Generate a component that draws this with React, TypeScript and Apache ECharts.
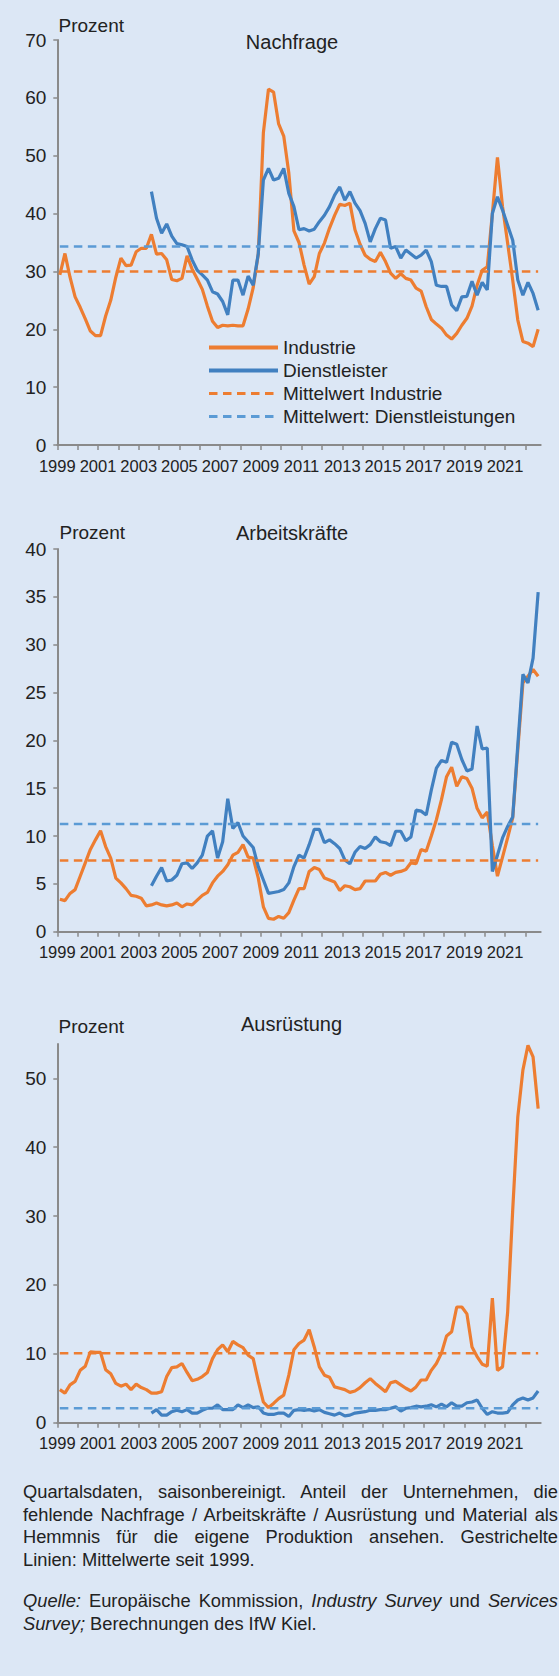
import React, { useEffect, useRef } from "react";
import * as echarts from "echarts";

// ---------- data ----------
// Quarterly values, 1999Q1 .. 2022Q3 (95 quarters); services series start 2003Q3
const SERVICES_START = 18;
const xTickQuarters = [0, 4, 8, 12, 16, 20, 24, 28, 32, 36, 40, 44, 48, 52, 56, 60, 64, 68, 72, 76, 80, 84, 88, 92];
const xLabelQuarters = [0, 8, 16, 24, 32, 40, 48, 56, 64, 72, 80, 88];
const yearLabels = ["1999", "2001", "2003", "2005", "2007", "2009", "2011", "2013", "2015", "2017", "2019", "2021"];

const nachfrageIndustrie = [
  29.4, 33.1, 29.0, 25.6, 23.8, 21.8, 19.7, 18.9, 18.9, 22.3,
  25.0, 29.0, 32.3, 31.0, 31.1, 33.4, 34.0, 34.0, 36.4, 33.0,
  33.1, 32.0, 28.6, 28.4, 28.8, 32.7, 30.4, 28.7, 26.9, 24.0,
  21.4, 20.3, 20.7, 20.6, 20.7, 20.6, 20.6, 23.5, 27.2, 33.0,
  54.0, 61.5, 61.0, 55.5, 53.4, 47.0, 37.0, 35.0, 31.1, 27.8,
  29.1, 33.1, 34.9, 37.5, 39.7, 41.6, 41.4, 41.8, 37.2, 34.7,
  32.8, 32.1, 31.7, 33.3, 31.7, 29.7, 28.8, 29.6, 28.8, 28.5,
  27.1, 26.6, 23.9, 21.7, 20.9, 20.2, 19.0, 18.3, 19.3, 20.7,
  21.9, 24.0, 27.6, 30.2, 30.8, 40.0, 49.7, 41.2, 34.9, 28.5,
  21.6, 17.9, 17.6, 17.0, 20.0,
];
const nachfrageDienst = [
  43.8, 39.2, 36.6, 38.2, 36.1, 34.8, 34.6, 34.3, 32.0, 30.2,
  29.4, 28.5, 26.5, 26.1, 24.8, 22.5, 28.5, 28.5, 25.9, 29.2,
  27.6, 33.1, 45.8, 47.8, 45.8, 46.1, 47.8, 43.5, 41.2, 37.2,
  37.4, 37.0, 37.3, 38.6, 39.7, 41.2, 43.2, 44.6, 42.3, 43.8,
  41.8, 40.5, 38.3, 35.1, 37.4, 39.2, 38.9, 34.0, 34.3, 32.3,
  33.7, 33.0, 32.3, 32.8, 33.7, 31.7, 27.6, 27.4, 27.4, 24.2,
  23.2, 25.6, 25.7, 28.3, 25.9, 28.1, 26.8, 40.0, 42.9, 40.6,
  38.0, 35.4, 28.5, 25.9, 28.1, 26.2, 23.3,
];
const nachfrageMittelIndustrie = 30.0;
const nachfrageMittelDienst = 34.3;

const arbeitIndustrie = [
  3.4, 3.25, 4.0, 4.4, 5.8, 7.2, 8.6, 9.6, 10.55, 8.9,
  7.7, 5.6, 5.1, 4.5, 3.8, 3.7, 3.5, 2.7, 2.8, 3.0,
  2.8, 2.7, 2.8, 3.0, 2.6, 2.9, 2.8, 3.3, 3.8, 4.1,
  5.1, 5.8, 6.3, 7.0, 8.0, 8.3, 9.1, 7.8, 7.7, 5.6,
  2.6, 1.4, 1.3, 1.6, 1.4, 2.0, 3.3, 4.5, 4.5, 6.3,
  6.7, 6.5, 5.6, 5.4, 5.2, 4.3, 4.8, 4.7, 4.4, 4.5,
  5.3, 5.3, 5.3, 6.0, 6.2, 5.9, 6.2, 6.3, 6.5, 7.2,
  7.1, 8.6, 8.4, 10.0, 11.7, 13.8, 16.2, 17.2, 15.2, 16.2,
  16.0, 15.0, 12.9, 11.9, 12.5, 9.0, 5.8, 7.8, 9.8, 11.9,
  19.0, 26.0, 26.7, 27.4, 26.7,
];
const arbeitDienst = [
  4.8, 5.8, 6.7, 5.3, 5.4, 5.9, 7.1, 7.2, 6.6, 7.2,
  8.0, 10.0, 10.55, 7.7, 9.4, 13.9, 10.8, 11.4, 10.0, 9.4,
  8.8, 6.8, 5.4, 4.0, 4.1, 4.2, 4.4, 5.1, 6.8, 8.0,
  7.7, 9.1, 10.7, 10.7, 9.3, 9.6, 9.2, 8.7, 7.5, 7.1,
  8.3, 8.9, 8.7, 9.1, 9.9, 9.4, 9.3, 9.0, 10.5, 10.5,
  9.5, 9.9, 12.7, 12.6, 12.2, 14.8, 17.1, 17.9, 17.7, 19.8,
  19.6, 18.0, 16.8, 17.0, 21.5, 19.1, 19.2, 6.3, 8.0, 9.8,
  11.0, 12.0, 19.5, 26.9, 26.0, 28.6, 35.5,
];
const arbeitMittelIndustrie = 7.45;
const arbeitMittelDienst = 11.25;

const ausruestIndustrie = [
  4.8, 4.3, 5.5, 6.0, 7.6, 8.2, 10.3, 10.2, 10.2, 7.7,
  7.1, 5.7, 5.3, 5.6, 4.8, 5.6, 5.1, 4.8, 4.3, 4.3,
  4.5, 6.7, 8.0, 8.1, 8.6, 7.3, 6.1, 6.3, 6.7, 7.3,
  9.3, 10.6, 11.3, 10.3, 11.8, 11.3, 10.9, 9.8, 9.3, 6.0,
  3.0, 2.2, 2.8, 3.5, 4.0, 6.9, 10.6, 11.5, 12.0, 13.5,
  11.0, 8.1, 6.9, 6.6, 5.2, 5.0, 4.8, 4.4, 4.6, 5.1,
  5.8, 6.4, 5.7, 5.1, 4.5, 5.8, 6.0, 5.5, 5.0, 4.6,
  5.2, 6.2, 6.2, 7.6, 8.6, 10.1, 12.6, 13.2, 16.8, 16.8,
  15.8, 11.0, 9.6, 8.5, 8.2, 18.1, 7.6, 8.1, 16.0, 30.9,
  44.4, 51.2, 54.8, 53.1, 45.6,
];
const ausruestDienst = [
  1.4, 1.9, 1.1, 1.1, 1.6, 1.8, 1.6, 1.9, 1.4, 1.4,
  1.8, 2.1, 2.1, 2.6, 1.9, 1.9, 1.9, 2.6, 2.2, 2.6,
  2.2, 2.3, 1.4, 1.2, 1.2, 1.4, 1.4, 0.9, 1.8, 1.9,
  1.8, 1.9, 1.7, 1.9, 1.5, 1.3, 1.1, 1.4, 1.0, 1.1,
  1.4, 1.5, 1.6, 1.8, 1.8, 1.9, 1.9, 2.1, 2.3, 1.7,
  2.1, 2.2, 2.4, 2.3, 2.4, 2.6, 2.3, 2.7, 2.3, 2.9,
  2.4, 2.4, 2.9, 3.0, 3.3, 2.1, 1.2, 1.6, 1.4, 1.4,
  1.5, 2.6, 3.3, 3.6, 3.3, 3.6, 4.6,
];
const ausruestMittelIndustrie = 10.1;
const ausruestMittelDienst = 2.1;

const ausruestYLabels = [0, 10, 20, 30, 40, 50];

// ---------- styling ----------
const BG = "#DCE7F5";
const ORANGE = "#ED7D31";
const BLUE = "#4180C0";
const BLUE_DASH = "#5B9BD5";
const AXIS = "#8A8A8A";
const TXT = "#222222";
const SANS = "'Liberation Sans', Arial, sans-serif";

const GRID_LEFT = 57.3;
const GRID_WIDTH = 483.4;
const LAST_Q = 94;

function toXY(values: number[], start: number) {
  return values.map((v, k) => [start + k + 0.5, v]);
}

function solid(name: string, values: number[], start: number, idx: number, color: string) {
  return {
    name,
    type: "line",
    xAxisIndex: idx,
    yAxisIndex: idx,
    data: toXY(values, start),
    symbol: "none",
    silent: true,
    lineStyle: { color, width: 3.2 },
    itemStyle: { color },
    z: 3,
  };
}

function meanLine(name: string, mean: number, endQ: number, idx: number, color: string) {
  return {
    name,
    type: "line",
    xAxisIndex: idx,
    yAxisIndex: idx,
    data: [
      [0.5, mean],
      [endQ + 0.5, mean],
    ],
    symbol: "none",
    silent: true,
    lineStyle: { color, width: 2.5, type: [8.5, 5.5] },
    itemStyle: { color },
    z: 4,
  };
}

function xAxis(idx: number) {
  return {
    type: "value",
    gridIndex: idx,
    min: 0,
    max: 95,
    axisLine: { show: true, onZero: false, lineStyle: { color: AXIS, width: 2 } },
    axisTick: {
      show: true,
      length: 5,
      customValues: xTickQuarters,
      lineStyle: { color: AXIS, width: 1.5 },
    },
    axisLabel: {
      customValues: xLabelQuarters,
      formatter: (v: number) => yearLabels[xLabelQuarters.indexOf(Math.round(v))] ?? "",
      margin: 12,
      fontSize: 16.5,
      fontFamily: SANS,
      color: TXT,
    },
    splitLine: { show: false },
  };
}

function yAxis(idx: number, max: number, interval: number, labelValues?: number[]) {
  const ax: any = {
    type: "value",
    gridIndex: idx,
    min: 0,
    max,
    interval,
    axisLine: { show: true, lineStyle: { color: AXIS, width: 2 } },
    axisTick: { show: true, length: 4, lineStyle: { color: AXIS, width: 1.5 } },
    axisLabel: { margin: 11, fontSize: 19, fontFamily: SANS, color: TXT },
    splitLine: { show: false },
  };
  if (labelValues) {
    ax.axisTick.customValues = labelValues;
    ax.axisLabel.customValues = labelValues;
  }
  return ax;
}

function label(text: string, x: number, y: number, size: number, align: string) {
  return {
    type: "text",
    x,
    y,
    silent: true,
    style: {
      text,
      fontSize: size,
      fontFamily: SANS,
      fill: TXT,
      align,
      verticalAlign: "middle",
    },
  };
}

export default function App() {
  const ref = useRef<HTMLDivElement>(null);

  useEffect(() => {
    if (!ref.current) return;
    const chart = echarts.init(ref.current, undefined, { renderer: "svg" });
    const option: any = {
      animation: false,
      backgroundColor: "transparent",
      grid: [
        { left: GRID_LEFT, top: 40, width: GRID_WIDTH, height: 405 },
        { left: GRID_LEFT, top: 549, width: GRID_WIDTH, height: 382.7 },
        { left: GRID_LEFT, top: 1043.9, width: GRID_WIDTH, height: 378.8 },
      ],
      xAxis: [xAxis(0), xAxis(1), xAxis(2)],
      yAxis: [yAxis(0, 70, 10), yAxis(1, 40, 5), yAxis(2, 55, 10, ausruestYLabels)],
      legend: {
        orient: "vertical",
        left: 207,
        top: 338,
        padding: 0,
        itemWidth: 69,
        itemHeight: 14,
        itemGap: 4,
        selectedMode: false,
        itemStyle: { opacity: 0 },
        textStyle: { fontSize: 19, fontFamily: SANS, color: TXT },
        data: [
          { name: "Industrie", lineStyle: { width: 4 }, itemStyle: { opacity: 0 } },
          { name: "Dienstleister", lineStyle: { width: 4 }, itemStyle: { opacity: 0 } },
          { name: "Mittelwert Industrie", lineStyle: { width: 3 }, itemStyle: { opacity: 0 } },
          { name: "Mittelwert: Dienstleistungen", lineStyle: { width: 3 }, itemStyle: { opacity: 0 } },
        ],
      },
      graphic: [
        label("Prozent", 58.5, 25, 19, "left"),
        label("Nachfrage", 292, 42, 20, "center"),
        label("Prozent", 59.5, 532, 19, "left"),
        label("Arbeitskräfte", 292, 533, 20, "center"),
        label("Prozent", 58.5, 1026, 19, "left"),
        label("Ausrüstung", 291.5, 1024, 20, "center"),
      ],
      series: [
        solid("Industrie", nachfrageIndustrie, 0, 0, ORANGE),
        solid("Dienstleister", nachfrageDienst, SERVICES_START, 0, BLUE),
        meanLine("Mittelwert Industrie", nachfrageMittelIndustrie, LAST_Q, 0, ORANGE),
        meanLine("Mittelwert: Dienstleistungen", nachfrageMittelDienst, 90.2, 0, BLUE_DASH),

        solid("Industrie", arbeitIndustrie, 0, 1, ORANGE),
        solid("Dienstleister", arbeitDienst, SERVICES_START, 1, BLUE),
        meanLine("Mittelwert Industrie", arbeitMittelIndustrie, LAST_Q, 1, ORANGE),
        meanLine("Mittelwert: Dienstleistungen", arbeitMittelDienst, LAST_Q, 1, BLUE_DASH),

        solid("Industrie", ausruestIndustrie, 0, 2, ORANGE),
        solid("Dienstleister", ausruestDienst, SERVICES_START, 2, BLUE),
        meanLine("Mittelwert Industrie", ausruestMittelIndustrie, LAST_Q, 2, ORANGE),
        meanLine("Mittelwert: Dienstleistungen", ausruestMittelDienst, LAST_Q, 2, BLUE_DASH),
      ],
    };
    chart.setOption(option);
    return () => chart.dispose();
  }, []);

  const lineBase: React.CSSProperties = {
    position: "absolute",
    left: 23,
    width: 535,
    fontSize: 18.3,
    lineHeight: "22.5px",
    height: 22.5,
    color: TXT,
    fontFamily: SANS,
    whiteSpace: "normal",
  };
  const just: React.CSSProperties = { ...lineBase, textAlign: "justify", textAlignLast: "justify" as any };
  const plain: React.CSSProperties = { ...lineBase, textAlign: "left" };

  return (
    <div
      style={{
        position: "absolute",
        left: 0,
        top: 0,
        width: 559,
        height: 1676,
        background: BG,
        overflow: "hidden",
      }}
    >
      <div ref={ref} style={{ position: "absolute", left: 0, top: 0, width: 559, height: 1475 }} />
      <div style={{ ...just, top: 1481 }}>Quartalsdaten, saisonbereinigt. Anteil der Unternehmen, die</div>
      <div style={{ ...just, top: 1503.5 }}>fehlende Nachfrage / Arbeitskräfte / Ausrüstung und Material als</div>
      <div style={{ ...just, top: 1526 }}>Hemmnis für die eigene Produktion ansehen. Gestrichelte</div>
      <div style={{ ...plain, top: 1548.5 }}>Linien: Mittelwerte seit 1999.</div>
      <div style={{ ...just, top: 1590 }}>
        <i>Quelle:</i> Europäische Kommission, <i>Industry Survey</i> und <i>Services</i>
      </div>
      <div style={{ ...plain, top: 1612.5 }}>
        <i>Survey;</i> Berechnungen des IfW Kiel.
      </div>
    </div>
  );
}
